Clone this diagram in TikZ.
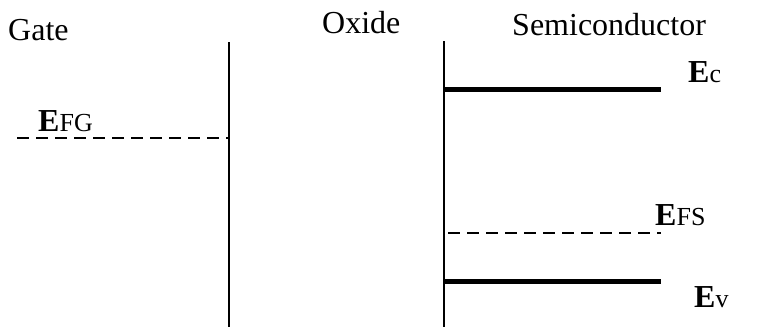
\documentclass[tikz,border=0pt]{standalone}
\usepackage{fontspec}
\setmainfont{Liberation Serif}
\begin{document}
\begin{tikzpicture}[x=1pt,y=-1pt,
  title/.style={anchor=base west,inner sep=0pt,font=\fontsize{32}{32}\selectfont},
  lvl/.style={anchor=base west,inner sep=0pt},
  wall/.style={line width=2pt},
  band/.style={line width=5pt},
  fermi/.style={line width=1.8pt,dash pattern=on 12pt off 7pt}]
\useasboundingbox (0,0) rectangle (762,327);
\newcommand{\bigE}{{\fontsize{32}{32}\selectfont\bfseries E}}
\newcommand{\smallsub}[1]{{\fontsize{26}{26}\selectfont #1}}
% titles
\node[title] (gate) at (8,40) {Gate};
\node[title] (oxide) at (322,33) {Oxide};
\node[title] (semi) at (512,35) {Semiconductor};
% walls
\coordinate (lt) at (229,42); \coordinate (lb) at (229,327);
\coordinate (rt) at (444,41); \coordinate (rb) at (444,327);
\draw[wall] (lt) -- (lb);
\draw[wall] (rt) -- (rb);
% gate Fermi level
\coordinate (fg0) at (17,138); \coordinate (fg1) at (229,138);
\draw[fermi] (fg0) -- (fg1);
\node[lvl] (efg) at (38,131) {\bigE\smallsub{FG}};
% conduction band
\coordinate (ec0) at (444,89); \coordinate (ec1) at (661,89);
\draw[band] (ec0) -- (ec1);
\node[lvl] (ec) at (688,82) {\bigE\smallsub{c}};
% semiconductor Fermi level
\coordinate (fs0) at (448,233); \coordinate (fs1) at (661,233);
\draw[fermi] (fs0) -- (fs1);
\node[lvl] (efs) at (655,225) {\bigE\smallsub{FS}};
% valence band
\coordinate (ev0) at (444,281); \coordinate (ev1) at (661,281);
\draw[band] (ev0) -- (ev1);
\node[lvl] (ev) at (694,307) {\bigE\smallsub{v}};
\end{tikzpicture}
\end{document}
